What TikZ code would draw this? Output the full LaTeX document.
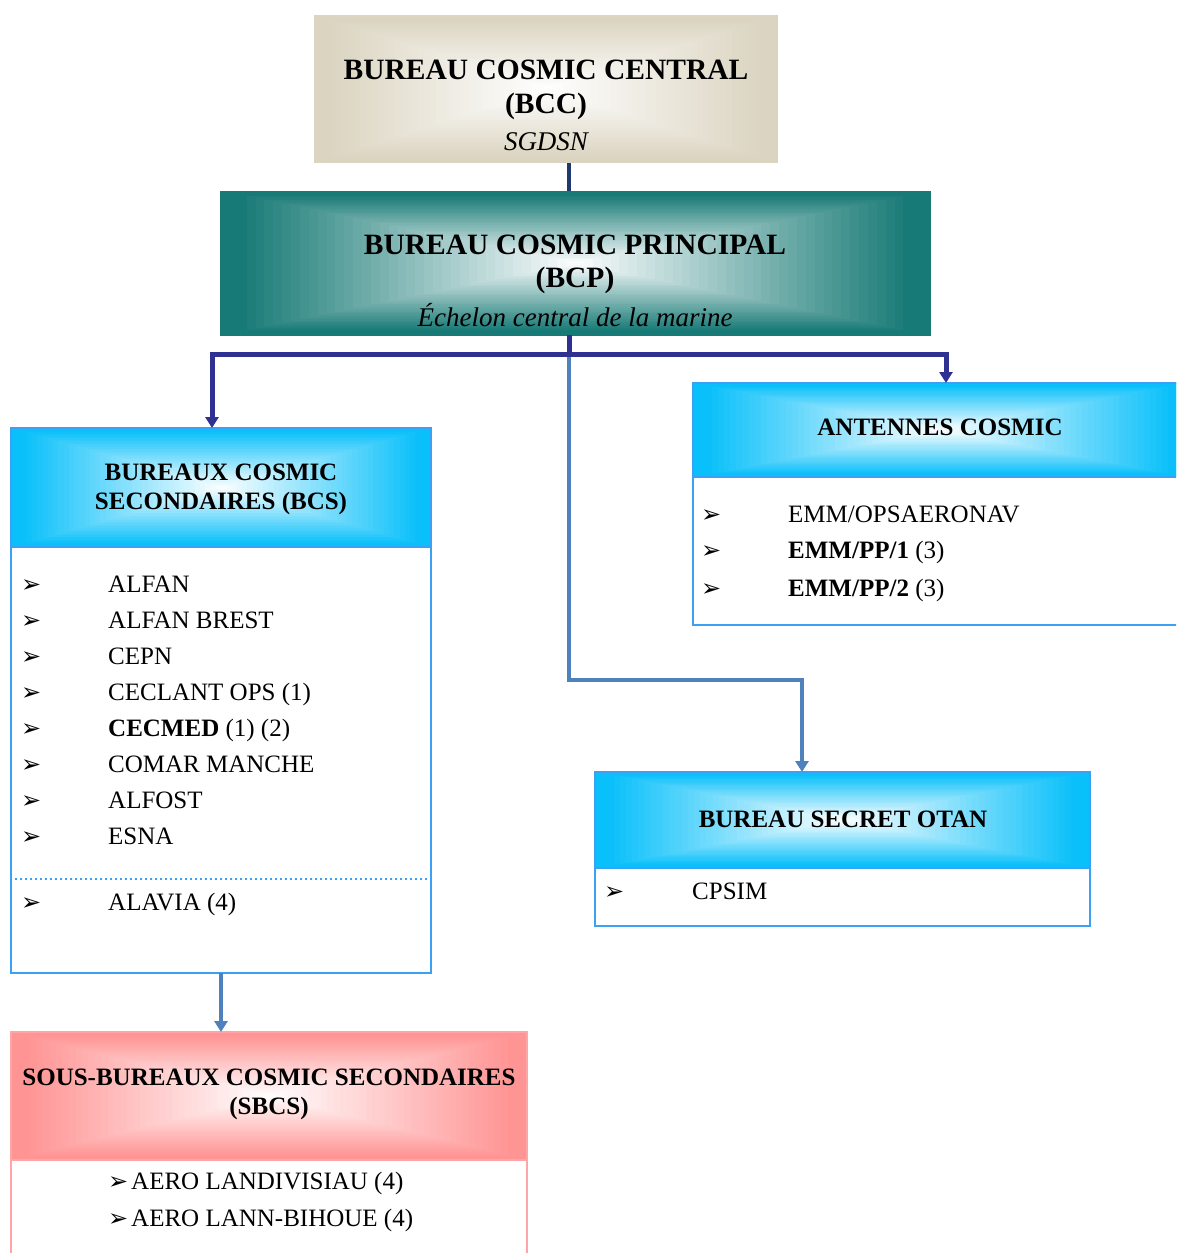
\documentclass[tikz,border=0pt]{standalone}
\usepackage{fontspec}
\setmainfont{Liberation Serif}
\newfontfamily\dejavu{DejaVu Sans}
\usetikzlibrary{arrows.meta,calc}
\definecolor{hcyan}{RGB}{10,192,250}
\definecolor{hpink}{RGB}{255,148,148}
\definecolor{hbeige}{RGB}{218,212,192}
\definecolor{hteal}{RGB}{24,122,118}
\definecolor{navy}{RGB}{46,49,146}
\definecolor{darknavy}{RGB}{31,56,110}
\definecolor{lblue}{RGB}{79,129,189}
\definecolor{bordblue}{RGB}{60,160,245}
\definecolor{bordpink}{RGB}{255,165,165}
\begin{document}
\begin{tikzpicture}[x=1pt,y=-1pt,
  box/.style={rectangle, inner sep=0pt, outer sep=0pt},
  grad/.style={path picture={
    \foreach \i in {40,39,...,1}{
      \pgfmathsetmacro\t{\i/40}
      \pgfmathsetmacro\p{min(100,105*\t)}
      \fill[#1!\p!white]
        ($(path picture bounding box.center)!\t!(path picture bounding box.north west)$)
        rectangle
        ($(path picture bounding box.center)!\t!(path picture bounding box.south east)$);
    }}},
  hdrbig/.style={font=\bfseries\fontsize{29.5}{34}\selectfont, anchor=base, inner sep=0pt},
  itbig/.style={font=\itshape\fontsize{27}{32}\selectfont, anchor=base, inner sep=0pt},
  hdr/.style={font=\bfseries\fontsize{25}{29}\selectfont, anchor=base, inner sep=0pt},
  itm/.style={font=\fontsize{25}{29}\selectfont, anchor=base west, inner sep=0pt},
  bul/.style={font=\dejavu\fontsize{24}{28}\selectfont, anchor=base west, inner sep=0pt},
  darkline/.style={draw=navy, line width=5pt},
  topline/.style={draw=darknavy, line width=4pt},
  lightline/.style={draw=lblue, line width=4pt},
  tip/.style={-{Triangle[width=13pt,length=11pt]}}
]
\clip (0,0) rectangle (1176,1253);
\fill[white] (0,0) rectangle (1176,1253);

% BCC
\node[box, grad=hbeige, minimum width=464pt, minimum height=148pt] (bcc) at (546,89) {};
\node[hdrbig] (bcct1) at (546,79) {BUREAU COSMIC CENTRAL};
\node[hdrbig] (bcct2) at (546,113) {(BCC)};
\node[itbig] (bcct3) at (546,150) {SGDSN};

% BCP
\node[box, grad=hteal, draw=hteal, line width=1pt, minimum width=710pt, minimum height=144pt] (bcp) at (575,263) {};
\node[hdrbig] (bcpt1) at (575,254) {BUREAU COSMIC PRINCIPAL};
\node[hdrbig] (bcpt2) at (575,287) {(BCP)};
\node[itbig] (bcpt3) at (575,326) {Échelon central de la marine};

% BCS
\node[box, draw=bordblue, line width=1.5pt, fill=white, minimum width=420pt, minimum height=545pt] (bcs) at (221,700.5) {};
\node[box, draw=bordblue, line width=1.5pt, grad=hcyan, minimum width=420pt, minimum height=119pt] (bcsh) at (221,487.5) {};
\node[hdr] (bcst1) at (221,480) {BUREAUX COSMIC};
\node[hdr] (bcst2) at (221,509) {SECONDAIRES (BCS)};
\node[bul] (b1) at (21,592) {➢}; \node[itm] (i1) at (108,592) {ALFAN};
\node[bul] (b2) at (21,628) {➢}; \node[itm] (i2) at (108,628) {ALFAN BREST};
\node[bul] (b3) at (21,664) {➢}; \node[itm] (i3) at (108,664) {CEPN};
\node[bul] (b4) at (21,700) {➢}; \node[itm] (i4) at (108,700) {CECLANT OPS (1)};
\node[bul] (b5) at (21,736) {➢}; \node[itm] (i5) at (108,736) {\textbf{CECMED} (1) (2)};
\node[bul] (b6) at (21,772) {➢}; \node[itm] (i6) at (108,772) {COMAR MANCHE};
\node[bul] (b7) at (21,808) {➢}; \node[itm] (i7) at (108,808) {ALFOST};
\node[bul] (b8) at (21,844) {➢}; \node[itm] (i8) at (108,844) {ESNA};
\draw[bordblue, line width=1.2pt, dash pattern=on 2pt off 3pt] (15,879) -- (428,879);
\node[bul] (b9) at (21,910) {➢}; \node[itm] (i9) at (108,910) {ALAVIA (4)};

% Antennes
\node[box, draw=bordblue, line width=1.5pt, fill=white, minimum width=494pt, minimum height=242pt] (ant) at (940,504) {};
\node[box, draw=bordblue, line width=1.5pt, grad=hcyan, minimum width=494pt, minimum height=94pt] (anth) at (940,430) {};
\node[hdr] (antt) at (940,435) {ANTENNES COSMIC};
\node[bul] (ab1) at (701,522) {➢}; \node[itm] (ai1) at (788,522) {EMM/OPSAERONAV};
\node[bul] (ab2) at (701,558) {➢}; \node[itm] (ai2) at (788,558) {\textbf{EMM/PP/1} (3)};
\node[bul] (ab3) at (701,596) {➢}; \node[itm] (ai3) at (788,596) {\textbf{EMM/PP/2} (3)};

% OTAN
\node[box, draw=bordblue, line width=1.5pt, fill=white, minimum width=495pt, minimum height=154pt] (otan) at (842.5,849) {};
\node[box, draw=bordblue, line width=1.5pt, grad=hcyan, minimum width=495pt, minimum height=96pt] (otanh) at (842.5,820) {};
\node[hdr] (otant) at (843,827) {BUREAU SECRET OTAN};
\node[bul] (ob1) at (604,899) {➢}; \node[itm] (oi1) at (692,899) {CPSIM};

% SBCS
\node[box, draw=bordpink, line width=1.5pt, fill=white, minimum width=516pt, minimum height=238pt] (sbcs) at (269,1151) {};
\node[box, draw=bordpink, line width=1.5pt, grad=hpink, minimum width=516pt, minimum height=128pt] (sbcsh) at (269,1096) {};
\node[hdr] (sbcst1) at (269,1085) {SOUS-BUREAUX COSMIC SECONDAIRES};
\node[hdr] (sbcst2) at (269,1114) {(SBCS)};
\node[bul] (sb1) at (108,1189) {➢}; \node[itm] (si1) at (131,1189) {AERO LANDIVISIAU (4)};
\node[bul] (sb2) at (108,1226) {➢}; \node[itm] (si2) at (131,1226) {AERO LANN-BIHOUE (4)};

% connectors
\coordinate (j) at (569,354);
\coordinate (k) at (802,680);
\draw[topline] (bcc.south -| j) -- (bcp.north -| j);
\draw[lightline, tip] (j) |- (k) -- (k |- otanh.north);
\draw[lightline, tip] (bcs.south) -- (bcs.south |- sbcsh.north);
\draw[darkline] (bcp.south -| j) -- (j);
\draw[darkline, tip] (j) -| ([xshift=-9pt]bcsh.north);
\draw[darkline, tip] (j) -| ([xshift=6pt]anth.north);
\end{tikzpicture}
\end{document}
